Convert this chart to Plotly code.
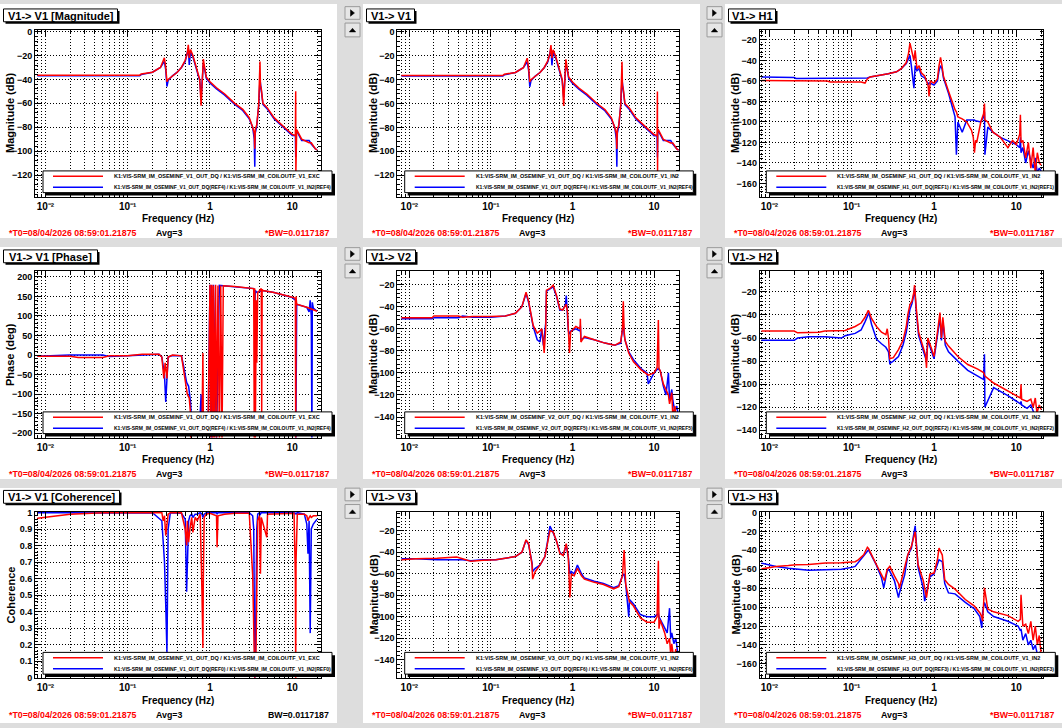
import plotly.graph_objects as go

W, H = 1062, 728
FONT = "Liberation Sans, Arial, sans-serif"
RED, BLUE = "#ff0000", "#0000ff"

# ---- values ----
# V1 -> V1 magnitude (dB); the top-left and top-middle pads show the same curves
v1v1_freq = [0.008, 0.14, 0.146, 0.2, 0.25, 0.27, 0.279, 0.29, 0.30, 0.31, 0.35, 0.40,
             0.45, 0.50, 0.53, 0.545, 0.56, 0.58, 0.62, 0.66, 0.70, 0.75, 0.78, 0.80,
             0.83, 0.86, 0.90, 1.0, 1.2, 1.5, 2.0, 2.5, 3.0, 3.3, 3.45, 3.5, 3.55, 3.7,
             3.9, 4.05, 4.1, 4.2, 4.4, 5.0, 6.0, 8.0, 10.0, 10.9, 11.0, 11.05, 11.1,
             11.3, 13.0, 16.0, 17.0, 19.0, 20.0]
v1v1_red = [-36.5, -36.5, -35.5, -34, -30, -25, -22, -30, -42, -40, -37, -34, -30, -24,
            -18, -11, -22, -15, -20, -27, -32, -40, -62, -40, -23, -30, -38, -42, -47,
            -52, -60, -65, -72, -80, -85, -98, -82, -78, -62, -25, -45, -48, -60, -64,
            -72, -80, -86, -87, -50, -118, -82, -82, -90, -93, -93, -98, -99]
v1v1_blue = [-37, -37, -36, -34, -30, -26, -25, -32, -46, -41, -37, -34, -30, -25, -19,
             -14, -28, -17, -21, -28, -33, -41, -55, -41, -27, -31, -39, -43, -48, -53,
             -61, -66, -73, -80, -90, -113, -85, -79, -62, -40, -47, -49, -61, -65, -73,
             -81, -87, -87, -105, -87, -83, -83, -91, -91, -94, -98, -99]

# V1 -> V1 phase (deg)
phase_freq_red = [0.008, 0.02, 0.025, 0.05, 0.06, 0.1, 0.15, 0.24, 0.26, 0.275, 0.285,
                  0.30, 0.31, 0.35, 0.45, 0.48, 0.50, 0.53, 0.56, 0.58, 0.585, 0.60, 0.8,
                  0.82, 0.83, 0.85, 0.95, 1.0, 1.02, 1.05, 1.08, 1.1, 1.13, 1.17, 1.2,
                  1.25, 1.3, 1.35, 1.4, 1.45, 2.0, 3.0, 3.4, 3.45, 3.5, 3.55, 3.6, 3.65,
                  3.7, 3.8, 4.0, 4.2, 4.25, 4.3, 4.4, 6.0, 10.0, 10.9, 11.0, 11.1, 11.3,
                  15.0, 20.0]
phase_red = [-3, -3, -6, -6, -2, -2, 2, 2, -5, -60, -20, -60, -5, 0, -2, -40, -60, -100,
             -110, -150, -250, -175, -175, 5, -175, -178, -178, 180, -220, 180, -220, 178,
             -220, 180, -220, 178, -220, 178, -220, 177, 175, 172, 170, -220, 170, -220, 0,
             140, -20, 160, 165, 170, -150, 168, 165, 160, 148, 145, -220, 150, 130, 122,
             112]
phase_freq_blue = [0.008, 0.02, 0.05, 0.06, 0.1, 0.24, 0.26, 0.28, 0.29, 0.30, 0.31, 0.35,
                   0.45, 0.48, 0.52, 0.55, 0.58, 0.60, 0.75, 0.78, 0.8, 0.95, 1.0, 1.05,
                   1.1, 1.2, 1.3, 1.45, 2.0, 3.0, 3.4, 3.5, 3.55, 3.7, 4.3, 6.0, 10.0,
                   11.0, 11.05, 11.3, 15.0, 16.0, 16.5, 17.0, 17.3, 17.5, 18.0, 20.0]
phase_blue = [-3, 0, 0, -4, -2, 2, -5, -50, -120, -70, -5, -1, -2, -30, -70, -80, -120,
              -175, -175, -100, -178, -178, 180, -220, 180, -220, 178, 177, 175, 172, 170,
              100, 165, 160, 165, 160, 147, 140, -220, 130, 122, 110, 140, 100, -220, 135,
              120, 112]

# V1 -> V1 coherence
coh_freq = [0.008, 0.012, 0.02, 0.05, 0.1, 0.2, 0.26, 0.27, 0.28, 0.29, 0.30, 0.31, 0.33,
            0.45, 0.50, 0.52, 0.53, 0.55, 0.57, 0.60, 0.62, 0.66, 0.70, 0.76, 0.80, 0.82,
            0.83, 0.85, 0.9, 1.0, 1.2, 1.22, 1.25, 1.5, 2.0, 3.0, 3.3, 3.4, 3.5, 3.6, 3.7,
            3.8, 4.0, 4.1, 4.2, 4.9, 5.0, 8.0, 10.5, 10.9, 11.0, 11.1, 11.5, 14.0, 15.0,
            15.5, 16.0, 16.5, 17.0, 18.0, 20.0]
coh_red = [0.965, 0.975, 0.99, 0.998, 0.999, 0.999, 0.999, 0.95, 0.98, 0.86, 0.93, 0.99,
           0.999, 0.998, 0.9, 0.8, 0.95, 0.82, 0.9, 0.97, 0.88, 0.97, 0.95, 0.99, 0.5, 0.18,
           0.6, 0.97, 0.99, 0.995, 0.98, 0.79, 0.98, 0.99, 0.995, 0.995, 0.62, 0.2, 0.0,
           0.05, 0.5, 0.95, 0.98, 0.63, 0.97, 0.85, 0.99, 0.995, 0.995, 0.6, 0.0, 0.7, 0.99,
           0.99, 0.98, 0.95, 0.97, 0.98, 0.97, 0.98, 0.98]
coh_blue = [0.998, 0.999, 0.999, 0.997, 0.999, 0.999, 0.95, 0.84, 0.70, 0.44, 0.15, 0.9,
            0.999, 0.995, 0.96, 0.52, 0.7, 0.95, 0.98, 0.99, 0.97, 0.99, 0.99, 0.999, 0.99,
            0.97, 0.98, 0.99, 0.999, 0.999, 0.999, 0.99, 0.999, 0.999, 0.999, 0.999, 0.98,
            0.9, 0.0, 0.3, 0.9, 0.99, 0.999, 0.99, 0.999, 0.999, 0.999, 0.999, 0.999, 0.99,
            0.999, 0.99, 0.999, 0.99, 0.93, 0.75, 0.95, 0.27, 0.9, 0.93, 0.96]

# V1 -> H1 magnitude (dB)
h1_freq = [0.008, 0.02, 0.021, 0.05, 0.055, 0.1, 0.13, 0.145, 0.155, 0.167, 0.2, 0.278,
           0.35, 0.40, 0.46, 0.49, 0.51, 0.53, 0.55, 0.57, 0.59, 0.62, 0.66, 0.70, 0.77,
           0.85, 0.87, 0.9, 1.0, 1.1, 1.15, 1.2, 1.25, 1.3, 1.5, 1.7, 1.8, 1.87, 1.95, 2.2,
           2.5, 2.85, 3.0, 3.1, 3.2, 3.3, 3.7, 4.0, 4.1, 4.15, 4.5, 5.2, 6.4, 7.9, 9.0,
           10.0, 11.0, 11.2, 11.4, 12.0, 13.0, 14.0, 15.0, 16.0, 17.0, 18.0, 19.0, 20.0]
h1_red = [-59.5, -59.5, -60, -60, -61, -61, -61, -62, -58, -56, -55, -53, -51, -48, -42,
          -33, -23, -28, -34, -40, -30, -48, -45, -52, -55, -65, -75, -60, -62, -58, -45,
          -37, -45, -55, -70, -83, -88, -90, -95, -97, -100, -108, -115, -130, -118, -120,
          -100, -92, -82, -98, -100, -110, -115, -125, -118, -122, -112, -93, -120, -118,
          -135, -120, -145, -125, -150, -130, -140, -142]
h1_blue = [-56, -56.5, -57.5, -57.5, -57, -57, -57, -57, -57, -56, -55, -53, -51, -48, -43,
           -38, -35, -45, -55, -67, -45, -50, -48, -55, -57, -63, -62, -62, -64, -60, -50,
           -45, -48, -57, -72, -88, -95, -132, -100, -110, -98, -98, -98, -98, -99, -99,
           -100, -95, -90, -132, -105, -110, -115, -118, -120, -122, -125, -115, -130, -125,
           -140, -128, -138, -145, -135, -150, -145, -148]

# V1 -> V2 magnitude (dB)
v2_freq = [0.008, 0.019, 0.02, 0.04, 0.045, 0.06, 0.1, 0.15, 0.2, 0.24, 0.27, 0.29, 0.33,
           0.37, 0.40, 0.42, 0.44, 0.45, 0.47, 0.48, 0.53, 0.58, 0.64, 0.70, 0.76, 0.82,
           0.84, 0.87, 0.89, 0.92, 0.95, 1.1, 1.24, 1.25, 1.27, 1.4, 1.85, 2.5, 3.3, 3.9,
           4.1, 4.2, 4.3, 4.4, 4.9, 5.6, 6.9, 8.2, 8.5, 10.0, 10.9, 11.3, 11.5, 11.9, 13.0,
           14.0, 15.0, 15.5, 16.5, 17.0, 18.0, 19.0, 20.0]
v2_red = [-50, -50, -48.5, -48.5, -49.5, -49, -49, -48.5, -46, -40, -27, -35, -57, -64,
          -62, -60, -72, -82, -60, -25, -23.5, -20.5, -30, -42, -43, -40, -38, -45, -60,
          -82, -63, -58, -60, -51, -72, -67, -70, -73, -75, -72, -60, -35, -62, -70, -82,
          -90, -97, -101, -102, -100, -95, -52, -96, -98, -110, -115, -120, -128, -118,
          -140, -130, -145, -150]
v2_blue = [-51, -51, -50, -50, -48.5, -49.5, -49.5, -48.5, -46, -40, -28, -36, -58, -70,
           -72, -60, -75, -65, -55, -26, -24, -22, -31, -43, -43, -38, -30, -45, -62, -65,
           -62, -60, -62, -57, -70, -68, -70, -73, -75, -73, -62, -55, -65, -70, -81, -88,
           -96, -100, -110, -100, -97, -96, -97, -98, -112, -120, -100, -125, -115, -125,
           -135, -130, -140]

# V1 -> H2 magnitude (dB)
h2_freq = [0.008, 0.02, 0.022, 0.03, 0.04, 0.047, 0.075, 0.083, 0.11, 0.13, 0.145, 0.152,
           0.159, 0.162, 0.174, 0.2, 0.23, 0.26, 0.27, 0.28, 0.29, 0.32, 0.37, 0.42, 0.46,
           0.48, 0.51, 0.54, 0.57, 0.58, 0.59, 0.61, 0.65, 0.74, 0.79, 0.81, 0.84, 0.92,
           1.0, 1.1, 1.18, 1.23, 1.28, 1.37, 1.5, 1.95, 2.57, 3.4, 4.0, 4.1, 4.15, 5.3, 7.9,
           11.2, 11.4, 11.6, 13.5, 15.0, 16.0, 17.0, 17.8, 19.0, 20.0]
h2_red = [-54, -54, -55.5, -55.5, -55, -54, -54, -53.5, -50, -47, -42, -38, -36, -37, -43,
          -50, -55, -57, -52, -60, -78, -77, -70, -62, -50, -40, -31, -28, -20, -14, -25,
          -35, -55, -67, -75, -86, -60, -68, -76, -55, -38, -60, -42, -63, -67, -76, -83,
          -87, -90, -92, -93, -99, -106, -112, -100, -113, -115, -113, -120, -112, -125,
          -118, -122]
h2_blue = [-62, -62, -60, -59, -59, -59, -60, -58, -56, -53, -46, -42, -40, -38, -48, -61,
           -65, -68, -70, -72, -82, -80, -76, -66, -55, -45, -35, -30, -22, -16, -28, -38,
           -58, -70, -78, -80, -62, -70, -78, -58, -42, -62, -45, -66, -72, -80, -88, -93,
           -96, -74, -120, -103, -110, -117, -115, -118, -121, -118, -123, -128, -125, -127,
           -127]

# V1 -> V3 magnitude (dB)
v3_freq = [0.008, 0.012, 0.022, 0.038, 0.045, 0.057, 0.08, 0.115, 0.2, 0.24, 0.27, 0.29,
           0.32, 0.325, 0.35, 0.40, 0.46, 0.50, 0.53, 0.58, 0.64, 0.70, 0.77, 0.84, 0.89,
           0.93, 0.97, 1.05, 1.15, 1.29, 1.4, 1.85, 2.4, 3.2, 3.7, 4.1, 4.3, 4.5, 4.9, 5.0,
           5.6, 6.8, 8.2, 10.0, 10.9, 11.3, 11.5, 11.9, 13.5, 14.5, 15.5, 16.0, 16.5, 17.5,
           18.5, 19.5, 20.0]
v3_red = [-47, -46, -45.5, -44.5, -46, -48.5, -47.5, -47, -44, -40, -28.5, -32, -52, -65,
          -58, -52, -44, -30, -20, -21, -30, -41, -43, -32, -45, -82, -60, -62, -55, -62,
          -65, -68, -70, -74, -72, -62, -38, -70, -84, -86, -90, -101, -105, -105, -100,
          -48, -111, -103, -115, -125, -120, -135, -125, -140, -130, -150, -145]
v3_blue = [-46, -46, -47, -47, -47, -48, -47, -47, -44, -40, -29, -33, -50, -58, -55, -52,
           -44, -28, -15.7, -22, -30, -40, -43, -33, -45, -60, -58, -60, -52, -60, -64,
           -67, -69, -73, -71, -62, -60, -70, -100, -84, -88, -98, -100, -100, -98, -97,
           -100, -102, -110, -115, -92, -120, -115, -125, -120, -135, -140]

# V1 -> H3 magnitude (dB)
h3_freq = [0.008, 0.012, 0.017, 0.021, 0.03, 0.048, 0.075, 0.1, 0.11, 0.12, 0.14, 0.155,
           0.16, 0.175, 0.19, 0.2, 0.23, 0.245, 0.25, 0.27, 0.28, 0.29, 0.33, 0.37, 0.38,
           0.42, 0.44, 0.48, 0.53, 0.59, 0.64, 0.74, 0.77, 0.81, 0.89, 1.0, 1.1, 1.15, 1.26,
           1.35, 1.5, 1.8, 2.4, 3.1, 3.6, 3.8, 3.9, 4.1, 4.5, 5.3, 7.9, 10.5, 11.2, 11.4,
           12.0, 13.0, 14.0, 15.0, 16.0, 17.0, 18.0, 19.0, 20.0]
h3_red = [-59.7, -57, -56, -55.2, -55, -53.5, -53, -52.8, -52, -50, -44.7, -36.7, -38, -45,
          -52, -55.2, -65.7, -70, -72, -60, -58, -57, -67, -75, -80, -64, -60, -44.7, -36,
          -20.3, -55, -72, -80, -90, -65, -64, -50, -37.7, -45, -71, -76, -81, -92, -99,
          -106, -110, -115, -79.6, -102, -105, -109, -115, -113, -87, -120, -118, -128,
          -115, -135, -120, -140, -130, -150]
h3_blue = [-53.5, -57, -59, -60, -61, -60.5, -60, -58, -57, -53, -45, -41, -39.5, -47, -52,
           -56, -69, -79.6, -75, -62, -60, -62, -72, -90, -85, -70, -66, -45, -38, -14, -58,
           -80, -93.6, -85, -68, -65, -55, -50, -52, -75, -85, -86, -95, -102, -110, -122,
           -105, -95, -105, -110, -115, -120, -125, -123, -135, -128, -140, -135, -145,
           -140, -150, -148, -152]

t0_label = "*T0=08/04/2026 08:59:01.21875"
avg_label = "Avg=3"
bw_label = "BW=0.0117187"
freq_ticks = [0.01, 0.1, 1, 10]
freq_tick_text = ["10\u207b\u00b2", "10\u207b\u00b9", "1", "10"]


def tf_name(ch, den, ref=None):
    if ref:
        return (f"K1:VIS-SRM_IM_OSEMINF_{ch}_OUT_DQ({ref}) / "
                f"K1:VIS-SRM_IM_COILOUTF_V1_{den}({ref})")
    return f"K1:VIS-SRM_IM_OSEMINF_{ch}_OUT_DQ / K1:VIS-SRM_IM_COILOUTF_V1_{den}"


MAG = "Magnitude (dB)"
panels = [
    dict(row=0, col=0, title="V1-> V1 [Magnitude]", tw=114, ytitle=MAG, yr=[-138, 1], dt=20,
         red=(v1v1_freq, v1v1_red), blue=(v1v1_freq, v1v1_blue), ch="V1", den="EXC", ref="REF4"),
    dict(row=0, col=1, title="V1-> V1", tw=48, ytitle=MAG, yr=[-138, 1.3], dt=20,
         red=(v1v1_freq, v1v1_red), blue=(v1v1_freq, v1v1_blue), ch="V1", den="IN2", ref="REF4"),
    dict(row=0, col=2, title="V1-> H1", tw=47, ytitle=MAG, yr=[-172.8, -10.6], dt=20,
         red=(h1_freq, h1_red), blue=(h1_freq, h1_blue), ch="H1", den="IN2", ref="REF1"),
    dict(row=1, col=0, title="V1-> V1 [Phase]", tw=94, ytitle="Phase (deg)", yr=[-211, 214], dt=50,
         red=(phase_freq_red, phase_red), blue=(phase_freq_blue, phase_blue),
         ch="V1", den="EXC", ref="REF4"),
    dict(row=1, col=1, title="V1-> V2", tw=49, ytitle=MAG, yr=[-158.6, -8], dt=20,
         red=(v2_freq, v2_red), blue=(v2_freq, v2_blue), ch="V2", den="IN2", ref="REF5"),
    dict(row=1, col=2, title="V1-> H2", tw=48, ytitle=MAG, yr=[-146.3, -2.2], dt=20,
         red=(h2_freq, h2_red), blue=(h2_freq, h2_blue), ch="H2", den="IN2", ref="REF2"),
    dict(row=2, col=0, title="V1-> V1 [Coherence]", tw=116, ytitle="Coherence", yr=[-0.002, 1.004],
         dt=0.1, red=(coh_freq, coh_red), blue=(coh_freq, coh_blue),
         ch="V1", den="EXC", ref="REF0", plain_bw=True),
    dict(row=2, col=1, title="V1-> V3", tw=49, ytitle=MAG, yr=[-156.9, -2.5], dt=20,
         red=(v3_freq, v3_red), blue=(v3_freq, v3_blue), ch="V3", den="IN2", ref="REF6"),
    dict(row=2, col=2, title="V1-> H3", tw=48, ytitle=MAG, yr=[-175, 0.7], dt=20,
         red=(h3_freq, h3_red), blue=(h3_freq, h3_blue), ch="H3", den="IN2", ref="REF3"),
]

# pad geometry in screen pixels
COLS = [
    dict(x=0, frame=(35, 320.7), xr=[-2.126, 1.345], leg=(43, 332)),
    dict(x=363, frame=(397.3, 679), xr=[-2.147, 1.306], leg=(404.7, 693.3)),
    dict(x=725, frame=(759.7, 1043), xr=[-2.118, 1.324], leg=(766.3, 1055.3)),
]
ROWS = [0, 244, 487.5]
PAD_Y = [(0, 237), (246, 481), (490, 728)]
FRAME_Y = (26.7, 195)

shapes, annotations = [], []


def px(x):
    return x / W


def py(y):
    return 1 - y / H


def rect(x0, y0, x1, y1, fill, line=None, lw=0, layer="above"):
    shapes.append(dict(type="rect", xref="paper", yref="paper", layer=layer,
                       x0=px(x0), x1=px(x1), y0=py(y1), y1=py(y0), fillcolor=fill,
                       line=dict(color=line or fill, width=lw)))


def seg(x0, y0, x1, y1, color, lw):
    shapes.append(dict(type="line", xref="paper", yref="paper", layer="above",
                       x0=px(x0), x1=px(x1), y0=py(y0), y1=py(y1),
                       line=dict(color=color, width=lw)))


def tri(pts):
    path = "M " + " L ".join(f"{px(a):.5f},{py(b):.5f}" for a, b in pts) + " Z"
    shapes.append(dict(type="path", xref="paper", yref="paper", layer="above", path=path,
                       fillcolor="black", line=dict(color="black", width=0.5)))


def text(x, y, s, size, color="black", xanchor="left", angle=0):
    annotations.append(dict(x=px(x), y=py(y), xref="paper", yref="paper", text=s,
                            showarrow=False, xanchor=xanchor, yanchor="middle",
                            textangle=angle, borderpad=0,
                            font=dict(family=FONT, size=size, color=color, weight="bold")))


minor_x = [m * 10.0 ** e for e in range(-3, 2) for m in range(2, 10)]
fig = go.Figure()
axes = {}

for i, p in enumerate(panels):
    n = "" if i == 0 else str(i + 1)
    c = COLS[p["col"]]
    top = ROWS[p["row"]]
    fx0, fx1 = c["frame"]
    fy0, fy1 = top + FRAME_Y[0], top + FRAME_Y[1]
    axes["xaxis" + n] = dict(
        type="log", domain=[px(fx0), px(fx1)], range=c["xr"], anchor="y" + n,
        tickvals=freq_ticks, ticktext=freq_tick_text,
        ticks="inside", ticklen=6, tickcolor="black",
        tickfont=dict(family=FONT, size=10, color="black", weight="bold"),
        showline=True, linecolor="black", linewidth=1, mirror="allticks",
        showgrid=True, gridcolor="black", gridwidth=1, griddash="1px,2px", zeroline=False,
        minor=dict(tickvals=minor_x, ticks="inside", ticklen=3, tickcolor="black",
                   showgrid=True, gridcolor="black", gridwidth=1, griddash="1px,2px"))
    axes["yaxis" + n] = dict(
        domain=[py(fy1), py(fy0)], range=p["yr"], anchor="x" + n, tick0=0, dtick=p["dt"],
        ticks="inside", ticklen=6, tickcolor="black",
        tickfont=dict(family=FONT, size=9, color="black", weight="bold"),
        showline=True, linecolor="black", linewidth=1, mirror="allticks",
        showgrid=True, gridcolor="black", gridwidth=1, griddash="1px,2px", zeroline=False,
        minor=dict(dtick=p["dt"] / 5, ticks="inside", ticklen=3, tickcolor="black"))

    for (f, v), color in ((p["blue"], BLUE), (p["red"], RED)):
        fig.add_trace(go.Scatter(x=f, y=v, mode="lines", line=dict(color=color, width=1.5),
                                 xaxis="x" + n, yaxis="y" + n, showlegend=False))

    # pad background
    x0 = c["x"]
    rect(x0, PAD_Y[p["row"]][0], x0 + 337, PAD_Y[p["row"]][1], "white", layer="below")

    # title box with shadow
    tx = x0 + 3.5
    rect(tx + 2, top + 7, tx + p["tw"] + 2, top + 20, "black")
    rect(tx, top + 5, tx + p["tw"], top + 18, "white", "black", 1)
    text(tx + p["tw"] / 2, top + 11.7, p["title"], 11, xanchor="center")

    # legend box
    lx0, lx1 = c["leg"]
    rect(lx0 + 3, top + 172, lx1 + 3, top + 194, "black")
    rect(lx0, top + 169, lx1, top + 191, "white", "black", 1)
    seg(lx0 + 10, top + 174.5, lx0 + 60, top + 174.5, RED, 1.5)
    seg(lx0 + 10, top + 185.5, lx0 + 60, top + 185.5, BLUE, 1.5)
    text(lx0 + 70, top + 174.5, tf_name(p["ch"], p["den"]), 5.5)
    text(lx0 + 70, top + 185.5, tf_name(p["ch"], "IN2", p["ref"]), 5.0)

    # axis titles
    text(x0 + 10.5, (fy0 + fy1) / 2, p["ytitle"], 11, xanchor="center", angle=-90)
    text((fx0 + fx1) / 2, top + 217.3, "Frequency (Hz)", 10, xanchor="center")

    # bottom info line
    text(x0 + 7.5, top + 232, t0_label, 8.8, RED)
    text(x0 + 169, top + 232, avg_label, 8.8, xanchor="center")
    if p.get("plain_bw"):
        text(x0 + 329.5, top + 232, bw_label, 8.8, xanchor="right")
    else:
        text(x0 + 329.5, top + 232, "*" + bw_label, 8.8, RED, xanchor="right")

    # the two small pad buttons on the left of the middle and right pads
    if p["col"] > 0:
        bx = x0 - 18
        rect(bx, top + 2.7, bx + 15, top + 15.5, "#e6e6e6", "#9a9a9a", 1)
        rect(bx, top + 19.3, bx + 15, top + 33.3, "#e6e6e6", "#9a9a9a", 1)
        tri([(bx + 5.5, top + 5.8), (bx + 5.5, top + 12.4), (bx + 9.5, top + 9.1)])
        tri([(bx + 4.3, top + 28.3), (bx + 10.7, top + 28.3), (bx + 7.5, top + 24.6)])

fig.update_layout(
    width=W, height=H, autosize=False, margin=dict(l=0, r=0, t=0, b=0),
    paper_bgcolor="#dddddd", plot_bgcolor="rgba(0,0,0,0)",
    shapes=shapes, annotations=annotations, showlegend=False,
    font=dict(family=FONT, color="black"), **axes)

fig.write_html("out.html", config={"displayModeBar": False},
               post_script="document.body.style.margin='0px';")
